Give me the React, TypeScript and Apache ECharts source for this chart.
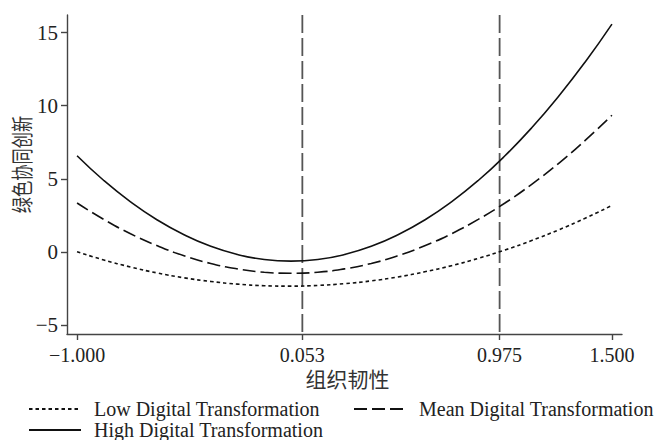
import React, { useEffect, useRef } from "react";
import * as echarts from "echarts";

// Values
const xValues = [-1, -0.875, -0.75, -0.625, -0.5, -0.375, -0.25, -0.125, 0, 0.125, 0.25, 0.375, 0.5, 0.625, 0.75, 0.875, 1, 1.125, 1.25, 1.375, 1.5];
const lowValues = [0.02, -0.54, -1.02, -1.43, -1.76, -2.01, -2.19, -2.3, -2.33, -2.28, -2.16, -1.97, -1.7, -1.35, -0.93, -0.43, 0.14, 0.79, 1.51, 2.31, 3.19];
const meanValues = [3.35, 2.23, 1.25, 0.43, -0.25, -0.78, -1.15, -1.38, -1.45, -1.38, -1.15, -0.78, -0.25, 0.43, 1.25, 2.23, 3.35, 4.63, 6.05, 7.63, 9.35];
const highValues = [6.58, 4.89, 3.43, 2.19, 1.18, 0.39, -0.17, -0.51, -0.62, -0.51, -0.17, 0.39, 1.18, 2.19, 3.43, 4.89, 6.58, 8.49, 10.63, 12.99, 15.58];
const xTicks = [-1, 0.053, 0.975, 1.5];
const yTicks = [-5, 0, 5, 10, 15];
const refLines = [0.053, 0.975];
const seriesNames = ["Low Digital Transformation", "Mean Digital Transformation", "High Digital Transformation"];
const xAxisTitle = "组织韧性";
const yAxisTitle = "绿色协同创新";

const X_MIN = -1.047;
const X_MAX = 1.547;
const Y_MIN = -5.6;
const Y_MAX = 16.2;

const SERIF = "'Liberation Serif', 'Times New Roman', serif";
const CJK = "'Noto Sans CJK SC', sans-serif";

const fmtMinus = (s: string) => s.replace("-", "\u2212");

export default function App() {
  const ref = useRef<HTMLDivElement>(null);
  useEffect(() => {
    if (!ref.current) return;
    const chart = echarts.init(ref.current, undefined, { renderer: "svg" });
    const toPairs = (vals: number[]) => xValues.map((x, i) => [x, vals[i]]);
    const curveStyles = [
      { type: [3.5, 3], width: 1.6 },
      { type: [13, 5], width: 1.6 },
      { type: "solid", width: 1.6 },
    ];
    const curveData = [lowValues, meanValues, highValues];
    const curves = seriesNames.map((name, i) => ({
      name,
      type: "line",
      data: toPairs(curveData[i]),
      smooth: true,
      showSymbol: false,
      symbol: "none",
      lineStyle: { color: "#111", width: curveStyles[i].width, type: curveStyles[i].type as any },
      itemStyle: { color: "#111" },
      z: 3,
    }));
    const vlines = refLines.map((v, i) => ({
      name: "ref" + i,
      type: "line",
      data: [[v, Y_MAX], [v, Y_MIN]],
      symbol: "none",
      silent: true,
      lineStyle: { color: "#555", width: 1.8, type: [18, 5] as any },
      z: 2,
    }));
    const legendBase = {
      orient: "horizontal",
      padding: 0,
      itemWidth: 52,
      itemHeight: 14,
      itemStyle: { opacity: 0 },
      textStyle: { fontFamily: SERIF, fontSize: 20, color: "#222", padding: [0, 0, 0, 8] },
      selectedMode: false,
    };
    chart.setOption({
      animation: false,
      backgroundColor: "#fff",
      grid: { left: 67, right: 45, top: 15, bottom: 106, containLabel: false, outerBoundsMode: "none" } as any,
      legend: [
        { ...legendBase, data: [seriesNames[0]], left: 28, top: 399 },
        { ...legendBase, data: [seriesNames[1]], left: 353, top: 399 },
        { ...legendBase, data: [seriesNames[2]], left: 28, top: 420 },
      ],
      xAxis: {
        type: "value",
        min: X_MIN,
        max: X_MAX,
        splitLine: { show: false },
        axisLine: { onZero: false, lineStyle: { color: "#444", width: 1.4 } },
        axisTick: { show: true, length: 6, customValues: xTicks, lineStyle: { color: "#444", width: 1.4 } },
        axisLabel: {
          customValues: xTicks,
          margin: 11,
          fontFamily: SERIF,
          fontSize: 20,
          color: "#222",
          formatter: (v: number) => fmtMinus(v.toFixed(3)),
        },
      },
      yAxis: {
        type: "value",
        min: Y_MIN,
        max: Y_MAX,
        splitLine: { show: false },
        axisLine: { show: true, onZero: false, lineStyle: { color: "#444", width: 1.4 } },
        axisTick: { show: true, length: 6, customValues: yTicks, lineStyle: { color: "#444", width: 1.4 } },
        axisLabel: {
          customValues: yTicks,
          margin: 9,
          fontFamily: SERIF,
          fontSize: 21,
          color: "#222",
          formatter: (v: number) => fmtMinus(String(v)),
        },
      },
      graphic: [
        {
          type: "text",
          x: 347.5,
          y: 378,
          style: { text: xAxisTitle, fontFamily: CJK, fontSize: 21, fill: "#333", textAlign: "center", textVerticalAlign: "middle" },
        },
        {
          type: "text",
          x: 21,
          y: 164.5,
          rotation: Math.PI / 2,
          scaleX: 0.74,
          style: { text: yAxisTitle, fontFamily: CJK, fontSize: 22, fill: "#333", textAlign: "center", textVerticalAlign: "middle" },
        },
      ],
      series: [...vlines, ...curves],
    } as any);
    return () => chart.dispose();
  }, []);
  return <div ref={ref} style={{ position: "absolute", left: 0, top: 0, width: 667, height: 440 }} />;
}
